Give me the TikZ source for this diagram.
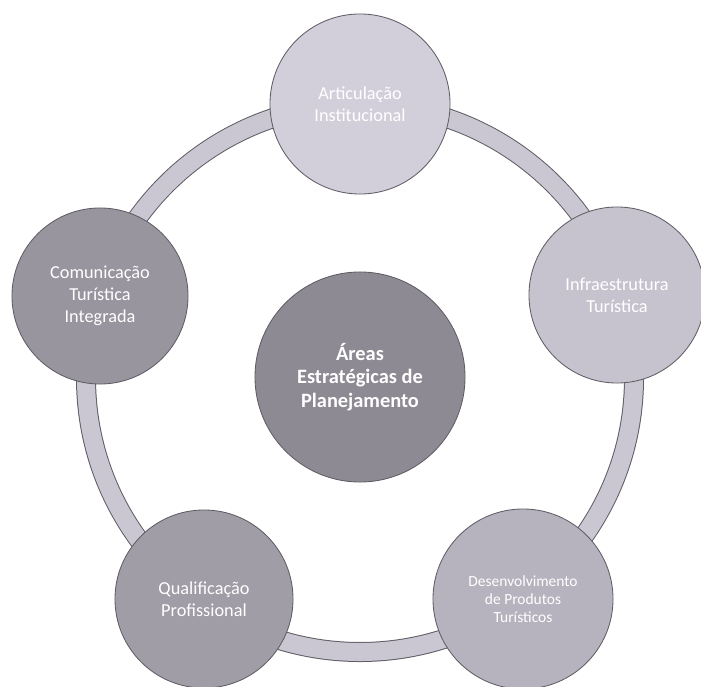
\documentclass[tikz,border=0pt]{standalone}
\usepackage{fontspec}
\setmainfont{Carlito}
\usepackage{tikz}
\usepackage{xcolor}
\usetikzlibrary{positioning, shapes, calc}
\definecolor{RingEdge}{RGB}{95,93,100}
\definecolor{RingFill}{RGB}{202,199,210}
\definecolor{AreaOne}{RGB}{210,207,218}
\definecolor{AreaTwo}{RGB}{198,195,206}
\definecolor{AreaThree}{RGB}{182,179,190}
\definecolor{AreaFour}{RGB}{160,157,166}
\definecolor{AreaFive}{RGB}{152,149,158}
\definecolor{HubGray}{RGB}{141,138,147}

\begin{document}
\begin{tikzpicture}[x=0.025cm, y=0.025cm,
  area/.style={circle, draw=RingEdge, line width=0.6pt, text=white,
    align=center, inner sep=0pt, minimum size=4.5cm, font=\fontsize{13}{15.5}\selectfont},
  hub/.style={area, minimum size=5.25cm, font=\fontsize{14.5}{16.5}\selectfont\bfseries}]
\useasboundingbox (0,0) rectangle (701,686);

% Ring behind the circles
\coordinate (ringc) at (360,308);
\draw[RingEdge, line width=0.5cm] (ringc) circle (274);
\draw[RingFill, line width=0.45cm] (ringc) circle (274);

% Outer areas
\node[area, fill=AreaOne] (artic) at (360,582) {Articulação\\Institucional};
\node[area, fill=AreaTwo, minimum size=4.4cm] (infra) at (617,391) {Infraestrutura\\Turística};
\node[area, fill=AreaThree, font=\fontsize{11}{13}\selectfont] (desenv) at (523,87) {Desenvolvimento\\de Produtos\\Turísticos};
\node[area, fill=AreaFour, minimum size=4.45cm] (qualif) at (204,87) {Qualificação\\Profissional};
\node[area, fill=AreaFive, minimum size=4.4cm] (comun) at (100,390) {Comunicação\\Turística\\Integrada};

% Center
\node[hub, fill=HubGray] (areas) at (360,309) {Áreas\\Estratégicas de\\Planejamento};
\end{tikzpicture}
\end{document}
